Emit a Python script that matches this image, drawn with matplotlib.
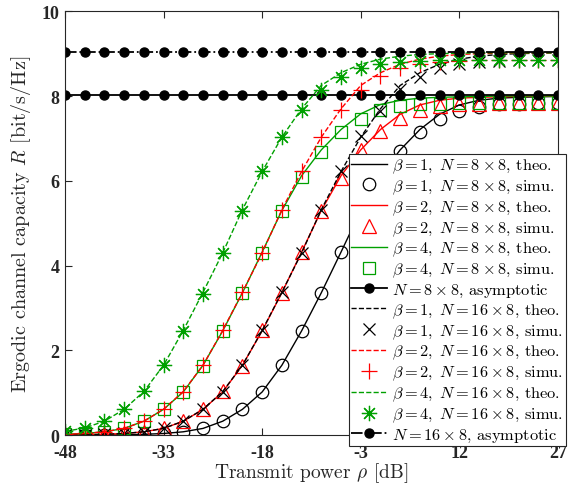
import matplotlib
matplotlib.use('Agg')
import matplotlib.pyplot as plt
import numpy as np

plt.rcParams['mathtext.fontset'] = 'cm'
plt.rcParams['font.family'] = ['cmr10', 'DejaVu Serif']
plt.rcParams['axes.formatter.use_mathtext'] = True
plt.rcParams['axes.unicode_minus'] = False

# transmit power grid [dB]
rho_db = list(range(-48, 28, 3))

# N = 8x8, simulated
simu_b1_8 = [0.00, 0.00, 0.00, 0.01, 0.02, 0.04, 0.08, 0.16, 0.33, 0.61, 1.02, 1.65, 2.46,
             3.36, 4.32, 5.28, 6.08, 6.70, 7.16, 7.46, 7.64, 7.75, 7.80, 7.82, 7.83, 7.83]
simu_b2_8 = [0.00, 0.01, 0.02, 0.04, 0.08, 0.17, 0.34, 0.62, 1.04, 1.64, 2.48, 3.36, 4.31,
             5.28, 6.07, 6.72, 7.18, 7.47, 7.67, 7.77, 7.81, 7.82, 7.83, 7.83, 7.83, 7.83]
simu_b4_8 = [0.02, 0.04, 0.08, 0.16, 0.33, 0.61, 1.03, 1.64, 2.46, 3.36, 4.30, 5.28, 6.08,
             6.69, 7.15, 7.46, 7.66, 7.76, 7.80, 7.82, 7.83, 7.83, 7.83, 7.83, 7.83, 7.83]

# N = 8x8, theoretical
theo_b1_8 = [0.00, 0.00, 0.00, 0.01, 0.02, 0.04, 0.08, 0.16, 0.33, 0.61, 1.02, 1.65, 2.46,
             3.36, 4.32, 5.30, 6.12, 6.73, 7.21, 7.57, 7.79, 7.90, 7.95, 7.97, 7.98, 7.99]
theo_b2_8 = [0.00, 0.01, 0.02, 0.04, 0.08, 0.16, 0.33, 0.61, 1.02, 1.65, 2.46, 3.36, 4.32,
             5.30, 6.12, 6.73, 7.21, 7.57, 7.79, 7.90, 7.95, 7.97, 7.98, 7.99, 7.99, 8.00]
theo_b4_8 = [0.02, 0.04, 0.08, 0.16, 0.33, 0.61, 1.02, 1.65, 2.46, 3.36, 4.32, 5.30, 6.12,
             6.73, 7.21, 7.58, 7.80, 7.90, 7.95, 7.97, 7.98, 7.99, 8.00, 8.00, 8.00, 8.00]

# N = 16x8, simulated
simu_b1_16 = [0.00, 0.01, 0.02, 0.04, 0.08, 0.16, 0.33, 0.61, 1.03, 1.65, 2.47, 3.37, 4.29,
              5.32, 6.22, 7.05, 7.64, 8.17, 8.46, 8.65, 8.76, 8.81, 8.83, 8.84, 8.84, 8.84]
simu_b2_16 = [0.02, 0.04, 0.08, 0.16, 0.33, 0.61, 1.03, 1.65, 2.47, 3.37, 4.29, 5.32, 6.22,
              7.03, 7.66, 8.15, 8.47, 8.66, 8.76, 8.81, 8.83, 8.84, 8.84, 8.84, 8.84, 8.84]
simu_b4_16 = [0.10, 0.17, 0.33, 0.61, 1.04, 1.65, 2.45, 3.34, 4.29, 5.28, 6.22, 7.03, 7.66,
              8.14, 8.46, 8.67, 8.75, 8.80, 8.83, 8.84, 8.84, 8.84, 8.84, 8.84, 8.84, 8.84]

# N = 16x8, theoretical
theo_b1_16 = [0.00, 0.01, 0.02, 0.04, 0.08, 0.16, 0.33, 0.61, 1.03, 1.65, 2.47, 3.37, 4.30,
              5.32, 6.22, 7.03, 7.70, 8.25, 8.55, 8.75, 8.87, 8.94, 8.98, 9.00, 9.01, 9.02]
theo_b2_16 = [0.02, 0.04, 0.08, 0.16, 0.33, 0.61, 1.03, 1.65, 2.47, 3.37, 4.30, 5.32, 6.22,
              7.03, 7.70, 8.25, 8.55, 8.75, 8.87, 8.94, 8.98, 9.00, 9.01, 9.02, 9.02, 9.02]
theo_b4_16 = [0.09, 0.17, 0.33, 0.61, 1.03, 1.65, 2.47, 3.37, 4.30, 5.32, 6.22, 7.03, 7.70,
              8.25, 8.55, 8.75, 8.87, 8.94, 8.98, 9.00, 9.01, 9.02, 9.02, 9.02, 9.02, 9.02]

# asymptotic capacities
asym_8 = 8.02
asym_16 = 9.05

green = '#00a000'
red = '#ff0000'
asterisk = (8, 2, 0)

fig = plt.figure(figsize=(5.8, 4.89), dpi=100)
ax = fig.add_axes([0.112, 0.108, 0.850, 0.867])

x = np.array(rho_db)
mew = 0.9

ax.plot(x, theo_b1_8, '-', color='k', lw=1.0, label=r'$\beta=1,\;N=8\times8$, theo.')
ax.plot(x, simu_b1_8, 'o', color='k', mfc='none', ms=9, mew=mew, label=r'$\beta=1,\;N=8\times8$, simu.')
ax.plot(x, theo_b2_8, '-', color=red, lw=1.0, label=r'$\beta=2,\;N=8\times8$, theo.')
ax.plot(x, simu_b2_8, '^', color=red, mfc='none', ms=10, mew=mew, label=r'$\beta=2,\;N=8\times8$, simu.')
ax.plot(x, theo_b4_8, '-', color=green, lw=1.0, label=r'$\beta=4,\;N=8\times8$, theo.')
ax.plot(x, simu_b4_8, 's', color=green, mfc='none', ms=8, mew=mew, label=r'$\beta=4,\;N=8\times8$, simu.')
ax.plot(x, [asym_8] * len(x), '-o', color='k', lw=1.3, ms=6.5, label=r'$N=8\times8$, asymptotic')
ax.plot(x, theo_b1_16, '--', color='k', lw=1.0, label=r'$\beta=1,\;N=16\times8$, theo.')
ax.plot(x, simu_b1_16, 'x', color='k', ms=8, mew=mew, label=r'$\beta=1,\;N=16\times8$, simu.')
ax.plot(x, theo_b2_16, '--', color=red, lw=1.0, label=r'$\beta=2,\;N=16\times8$, theo.')
ax.plot(x, simu_b2_16, '+', color=red, ms=11, mew=mew, label=r'$\beta=2,\;N=16\times8$, simu.')
ax.plot(x, theo_b4_16, '--', color=green, lw=1.0, label=r'$\beta=4,\;N=16\times8$, theo.')
ax.plot(x, simu_b4_16, marker=asterisk, ls='none', color=green, ms=11, mew=mew,
        label=r'$\beta=4,\;N=16\times8$, simu.')
ax.plot(x, [asym_16] * len(x), '-.o', color='k', lw=1.3, ms=6.5, label=r'$N=16\times8$, asymptotic')

ax.set_xlim(-48, 27)
ax.set_ylim(0, 10)
ax.set_xticks([-48, -33, -18, -3, 12, 27])
ax.set_yticks([0, 2, 4, 6, 8, 10])
ax.set_xticklabels(['-48', '-33', '-18', '-3', '12', '27'])
ax.set_yticklabels(['0', '2', '4', '6', '8', '10'])
for lbl in ax.get_xticklabels() + ax.get_yticklabels():
    lbl.set_family('Liberation Serif')
    lbl.set_fontweight('bold')
    lbl.set_fontsize(13)
    lbl.set_color('#262626')
ax.tick_params(direction='in', top=True, right=True, length=5, width=0.8, colors='#262626')
ax.tick_params(axis='x', pad=6)
ax.tick_params(axis='y', pad=4)
for s in ax.spines.values():
    s.set_color('#262626')
    s.set_linewidth(0.8)

ax.set_xlabel(r'Transmit power $\rho$ [dB]', fontsize=14, color='#262626', labelpad=0)
ax.set_ylabel(r'Ergodic channel capacity $R$ [bit/s/Hz]', fontsize=14.5, color='#262626', labelpad=6)

leg = ax.legend(loc='upper left', bbox_to_anchor=(0.576, 0.663), fontsize=11.8, frameon=True,
                fancybox=False, edgecolor='#262626', framealpha=1, borderpad=0.15,
                labelspacing=0.15, handlelength=2.2, handletextpad=0.3, borderaxespad=0)
leg.get_frame().set_linewidth(0.8)
leg.set_clip_on(False)

fig.savefig('out.png', dpi=100)
